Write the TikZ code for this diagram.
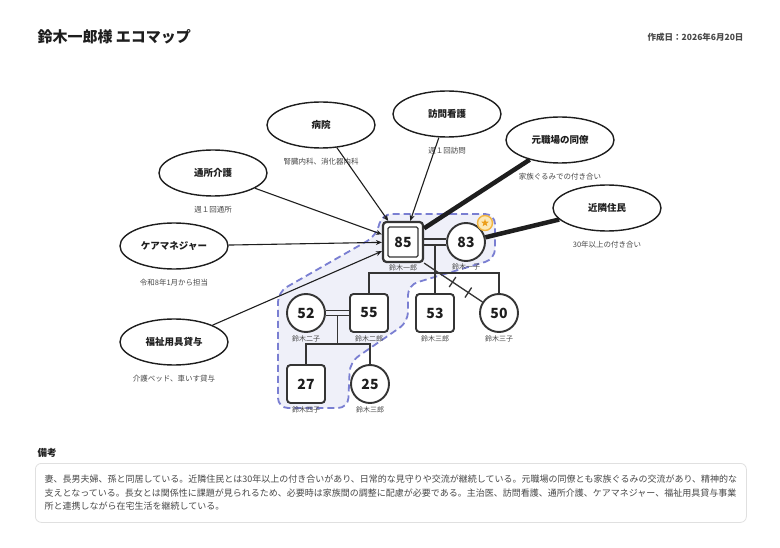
\documentclass[tikz,border=0pt]{standalone}
\usepackage{fontspec}
\setmainfont{Noto Sans CJK JP}
\usepackage{tikz}
\usetikzlibrary{arrows.meta,positioning,calc,shapes.geometric}
\definecolor{ink}{HTML}{1E1E1E}
\definecolor{kinline}{HTML}{353535}
\definecolor{subtext}{HTML}{484848}
\definecolor{hhline}{HTML}{7A7FD2}
\definecolor{hhfill}{HTML}{EFF0F9}
\definecolor{badgering}{HTML}{F2B540}
\definecolor{badgefill}{HTML}{FCE8B8}
\definecolor{badgestar}{HTML}{EC9E1C}
\definecolor{boxline}{HTML}{E0E0E0}

\begin{document}
\begin{tikzpicture}[
  x=1pt, y=-1pt,
  res/.style={ellipse, draw=ink, line width=1.4pt, fill=white, minimum width=108pt, minimum height=46pt, inner sep=0pt, font=\fontsize{9.5}{11}\selectfont\bfseries, text=ink},
  sub/.style={font=\fontsize{7.5}{9}\selectfont, text=subtext, inner sep=2pt},
  male/.style={rectangle, rounded corners=3.5pt, draw=kinline, line width=1.9pt, fill=white, minimum size=38pt, inner sep=0pt, font=\fontsize{14}{16}\selectfont\bfseries, text=ink},
  female/.style={circle, draw=kinline, line width=1.9pt, fill=white, minimum size=38pt, inner sep=0pt, font=\fontsize{14}{16}\selectfont\bfseries, text=ink},
  who/.style={font=\fontsize{7}{8}\selectfont, text=subtext, inner sep=1pt},
  kin/.style={draw=kinline, line width=1.6pt},
  support/.style={draw=ink, line width=1.1pt, -{Stealth[length=6pt, width=5pt]}},
  strong/.style={draw=ink, line width=4.5pt},
  household/.style={draw=hhline, fill=hhfill, line width=1.8pt, dash pattern=on 7pt off 4pt, rounded corners=10pt},
]
\fill[white] (0,0) rectangle (780,548);
\useasboundingbox (0,0) rectangle (780,548);

% Header
\node[anchor=west, font=\fontsize{15}{18}\selectfont\bfseries, text=ink] (title) at (34,37) {鈴木一郎様 エコマップ};
\node[anchor=east, font=\fontsize{8.5}{10}\selectfont\bfseries, text=subtext] (date) at (747,37) {作成日：2026年6月20日};

% Household boundary
\path[household] (440,214) -- (495,214) -- (495,259) -- (408,285) -- (408,322) -- (350,362) -- (348,408) -- (278,408) -- (278,292) -- (376,236) -- (382,214) -- cycle;

% Resources around the client
\foreach \nm/\pos/\txt/\info in {
  hosp/{321,125}/病院/腎臓内科、消化器内科,
  nurse/{447,114}/訪問看護/週１回訪問,
  colleague/{560,140}/元職場の同僚/家族ぐるみでの付き合い,
  daycare/{213,173}/通所介護/週１回通所,
  neighbor/{607,208}/近隣住民/30年以上の付き合い,
  cm/{174,246}/ケアマネジャー/令和8年1月から担当,
  welfare/{174,342}/福祉用具貸与/介護ベッド、車いす貸与} {
  \node[res] (\nm) at (\pos) {\txt};
  \node[sub, below=7pt of \nm] {\info};
}

% Genogram
\node[male, minimum size=40pt, line width=2.2pt] (ichiro) at (403,242) {85};
\node[male, fill=none, minimum size=30pt, line width=1.4pt, rounded corners=1.5pt] at (ichiro) {};
\node[female] (kazuko) at (466,242) {83};

\node[female] (niko) at (306,313) {52};
\node[male] (jiro) at (369,313) {55};
\node[male] (saburo) at (435,313) {53};
\node[female] (sanko) at (499,313) {50};

\node[male] (shiko) at (306,384) {27};
\node[female] (mago) at (370,384) {25};

% marriages and children
\draw[kin] ($(ichiro.east)+(0,-3)$) -- ($(kazuko.west)+(0,-3)$);
\draw[kin] ($(ichiro.east)+(0,3)$) -- ($(kazuko.west)+(0,3)$);
\coordinate (c1) at ($(ichiro.east)!0.5!(kazuko.west)+(0,3)$);
\draw[kin] (c1) -- (c1 |- saburo.north);
\draw[kin] (jiro.north) -- ++(0,-20) -| (sanko.north);

\draw[kin] ($(niko.east)+(0,-2.5)$) -- ($(jiro.west)+(0,-2.5)$);
\draw[kin] ($(niko.east)+(0,2.5)$) -- ($(jiro.west)+(0,2.5)$);
\coordinate (c2) at ($(niko.east)!0.5!(jiro.west)+(0,2.5)$);
\draw[kin] (c2) -- ($(c2 |- shiko.north)+(0,-20)$);
\draw[kin] (shiko.north) -- ++(0,-20) -| (mago.north);

% stressful tie to the eldest daughter
\draw[kin, line width=1.3pt] (ichiro.south east) -- (sanko);
\foreach \t in {0.38,0.59} {
  \coordinate (tk) at ($(ichiro.south east)!\t!(sanko.center)$);
  \draw[kin, line width=1.3pt] ($(tk)!6pt!90:(sanko.center)$) -- ($(tk)!6pt!-90:(sanko.center)$);
}

% names
\node[who, below=0pt of ichiro] {鈴木一郎};
\node[who, below=0pt of kazuko] {鈴木一子};
\node[who, below=1.5pt of niko] {鈴木二子};
\node[who, below=1.5pt of jiro] {鈴木二郎};
\node[who, below=1.5pt of saburo] {鈴木三郎};
\node[who, below=1.5pt of sanko] {鈴木三子};
\node[who, below=1.5pt of shiko] {鈴木四子};
\node[who, below=1.5pt of mago] {鈴木三郎};

% Ties
\foreach \nm in {hosp,nurse,daycare,cm,welfare}
  \draw[support] (\nm) -- (ichiro);
\draw[strong] (colleague) -- (ichiro);
\draw[strong] (neighbor) -- (kazuko);

% key person mark
\node[circle, draw=badgering, fill=badgefill, line width=1.4pt, minimum size=15pt, inner sep=0pt] (badge) at (485,223) {};
\node[star, star points=5, star point ratio=2.4, fill=badgestar, minimum size=8pt, inner sep=0pt] at (badge) {};

% Notes
\node[anchor=west, font=\fontsize{9.5}{11}\selectfont\bfseries, text=ink] (memohead) at (34,453) {備考};
\node[anchor=north west, draw=boxline, line width=0.8pt, rounded corners=6pt, minimum width=711pt, minimum height=59pt, align=left, font=\fontsize{9}{13.5}\selectfont, text=subtext] (memo) at (35,463) {妻、長男夫婦、孫と同居している。近隣住民とは30年以上の付き合いがあり、日常的な見守りや交流が継続している。元職場の同僚とも家族ぐるみの交流があり、精神的な\\支えとなっている。長女とは関係性に課題が見られるため、必要時は家族間の調整に配慮が必要である。主治医、訪問看護、通所介護、ケアマネジャー、福祉用具貸与事業\\所と連携しながら在宅生活を継続している。};
\end{tikzpicture}
\end{document}
